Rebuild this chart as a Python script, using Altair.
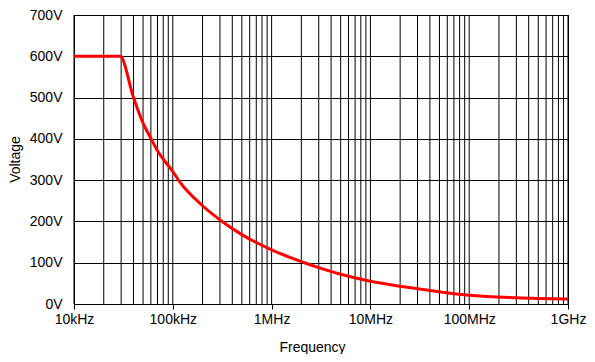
import altair as alt
import pandas as pd

# Curve
freq_hz = [1e4, 2.93e4, 4e4, 5e4, 6e4, 7e4, 1e5, 1.15e5, 2e5, 3.16e5, 5e5, 1e6,
           2.15e6, 3e6, 5e6, 1e7, 2e7, 3e7, 1e8, 3e8, 1e9]
voltage_v = [600, 600, 500, 438, 401, 371, 321, 299, 238, 200, 168, 131,
             100, 88, 72, 55, 43, 37, 21, 15, 12]

# Axis ticks
decade_ticks = [1e4, 1e5, 1e6, 1e7, 1e8, 1e9]
decade_labels = ["10kHz", "100kHz", "1MHz", "10MHz", "100MHz", "1GHz"]
grid_multipliers = [1, 2, 3, 4, 5, 6, 7, 8, 9]
volt_ticks = [0, 100, 200, 300, 400, 500, 600, 700]

grid_freqs = [d * m for d in decade_ticks[:-1] for m in grid_multipliers] + [decade_ticks[-1]]

curve = pd.DataFrame({"f": freq_hz, "v": voltage_v})
grid_df = pd.DataFrame({"f": grid_freqs})

label_expr = " : ".join(
    f"datum.value == {v:g} ? '{l}'" for v, l in zip(decade_ticks, decade_labels)
) + " : ''"

FONT = "Liberation Sans"
FS = 14

xscale = alt.Scale(type="log", domain=[1e4, 1e9], nice=False)
yscale = alt.Scale(domain=[0, 700], nice=False)

x_axis = alt.Axis(
    values=decade_ticks,
    labelExpr=label_expr,
    grid=False,
    ticks=True,
    tickSize=5,
    tickColor="black",
    domain=True,
    domainColor="black",
    labelFont=FONT,
    labelFontSize=FS,
    labelColor="black",
    labelPadding=3,
    labelFlush=False,
    labelOverlap=False,
    title="Frequency",
    titleFont=FONT,
    titleFontSize=FS,
    titleFontWeight="normal",
    titleColor="black",
    titleX=238,
    titleY=47,
    titleBaseline="alphabetic",
)

y_axis = alt.Axis(
    values=volt_ticks,
    labelExpr="datum.value + 'V'",
    grid=True,
    gridColor="black",
    gridOpacity=1,
    gridWidth=1,
    ticks=False,
    domain=True,
    domainColor="black",
    labelFont=FONT,
    labelFontSize=FS,
    labelColor="black",
    labelPadding=12,
    title="Voltage",
    titleFont=FONT,
    titleFontSize=FS,
    titleFontWeight="normal",
    titleColor="black",
    titleX=-59,
    titleY=144,
    titleAngle=-90,
    titleAlign="center",
    titleBaseline="middle",
)

grid = alt.Chart(grid_df).mark_rule(color="black", strokeWidth=1).encode(
    x=alt.X("f:Q", scale=xscale, axis=x_axis)
)

line = alt.Chart(curve).mark_line(
    color="#ff0000", strokeWidth=3, interpolate="monotone", clip=True
).encode(
    x=alt.X("f:Q", scale=xscale, axis=x_axis),
    y=alt.Y("v:Q", scale=yscale, axis=y_axis),
)

chart = (
    alt.layer(grid, line)
    .properties(
        width=494,
        height=289,
        autosize=alt.AutoSizeParams(type="none"),
        padding={"left": 66, "top": 7, "right": 19, "bottom": 50},
        background="white",
    )
    .configure_view(stroke="black", strokeWidth=1)
)

chart.save("out.html", embed_options={"renderer": "svg", "actions": False})
